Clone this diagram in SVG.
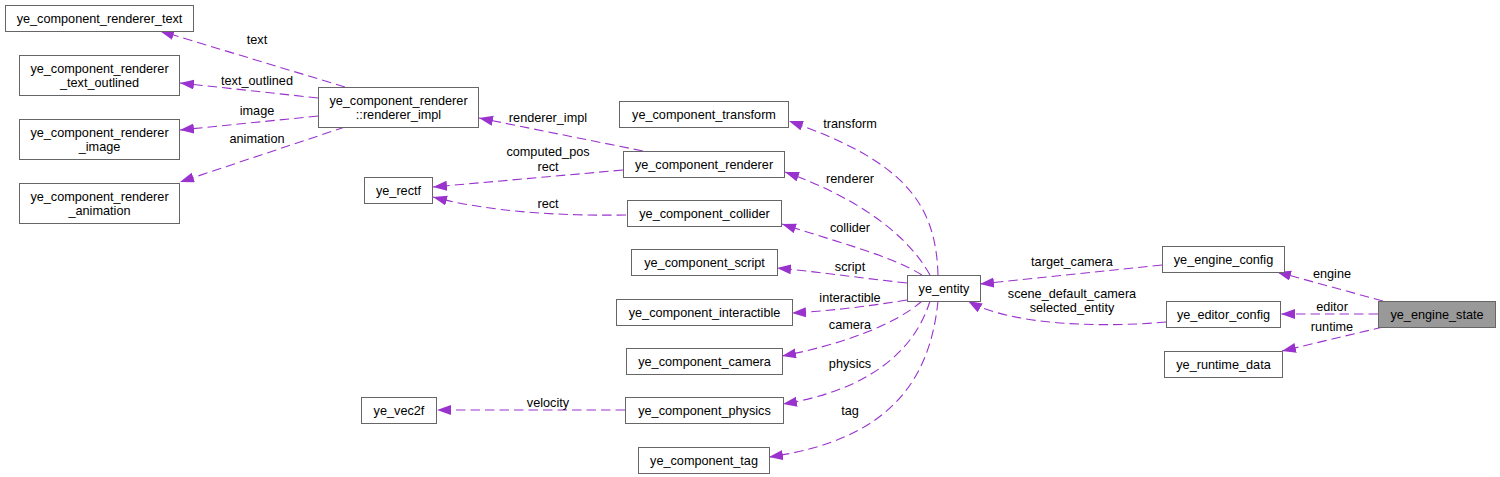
<svg xmlns="http://www.w3.org/2000/svg" width="1500" height="477" viewBox="0 0 1500 477">
<defs>
<style>
.n rect{fill:#ffffff;stroke:#666666;stroke-width:1}
.n.h rect{fill:#999999}
text{font-family:"Liberation Sans",Arial,Helvetica,sans-serif;font-size:12.7px;fill:#000000;text-anchor:middle}
.e path{fill:none;stroke:#9a32cd;stroke-width:1.1;stroke-dasharray:9.5,5;marker-end:url(#ah)}
</style>
<marker id="ah" markerUnits="userSpaceOnUse" markerWidth="15" markerHeight="11" refX="14" refY="5" orient="auto">
<path d="M0,0 L14,5 L0,10 z" fill="#9a32cd" stroke="none"/>
</marker>
</defs>
<rect x="0" y="0" width="1500" height="477" fill="#ffffff"/>
<g id="edges" class="e">
<path d="M345,87 L160,31"/>
<path d="M318,98 L180,83"/>
<path d="M318,116 L180,130"/>
<path d="M345,127 L180,182"/>
<path d="M643,151 L479,118"/>
<path d="M623,170 L433,187"/>
<path d="M626,215 C560,216 490,212 433,197"/>
<path d="M625,410 L437,410"/>
<path d="M938,275 C936,200 900,160 789,121"/>
<path d="M930,275 C905,230 850,195 785,172"/>
<path d="M922,275 C890,255 830,240 782,224"/>
<path d="M907,283 C860,278 820,272 777,268"/>
<path d="M907,300 C870,306 830,311 792,313"/>
<path d="M922,301 C895,325 840,345 782,356"/>
<path d="M930,301 C915,350 870,390 783,404"/>
<path d="M938,301 C930,380 890,440 769,457"/>
<path d="M1162,265 L980,284"/>
<path d="M1166,322 C1100,328 1010,325 968,301"/>
<path d="M1383,301 L1277,272"/>
<path d="M1378,314 L1281,314"/>
<path d="M1383,327 L1282,351"/>
</g>
<g id="labels">
<text x="257" y="43.5">text</text>
<text x="257" y="84.5">text_outlined</text>
<text x="257" y="114.5">image</text>
<text x="257" y="142.5">animation</text>
<text x="548" y="121.5">renderer_impl</text>
<text x="548" y="155.5">computed_pos</text>
<text x="548" y="170.5">rect</text>
<text x="548" y="207.5">rect</text>
<text x="548" y="406.5">velocity</text>
<text x="850" y="127.5">transform</text>
<text x="850" y="182.5">renderer</text>
<text x="850" y="231.5">collider</text>
<text x="850" y="270.5">script</text>
<text x="850" y="301.5">interactible</text>
<text x="850" y="328.5">camera</text>
<text x="850" y="367.5">physics</text>
<text x="850" y="414.5">tag</text>
<text x="1072" y="265.5">target_camera</text>
<text x="1072" y="297.5">scene_default_camera</text>
<text x="1072" y="311.5">selected_entity</text>
<text x="1332" y="277.5">engine</text>
<text x="1332" y="310.5">editor</text>
<text x="1332" y="330.5">runtime</text>
</g>
<g id="node_renderer_text" class="n"><rect x="5.5" y="5.5" width="188" height="26"/><text x="99.5" y="23">ye_component_renderer_text</text></g>
<g id="node_renderer_text_outlined" class="n"><rect x="19.5" y="55.5" width="160" height="40"/><text x="99.5" y="73">ye_component_renderer</text><text x="99.5" y="87">_text_outlined</text></g>
<g id="node_renderer_image" class="n"><rect x="19.5" y="119.5" width="160" height="40"/><text x="99.5" y="137">ye_component_renderer</text><text x="99.5" y="151">_image</text></g>
<g id="node_renderer_animation" class="n"><rect x="19.5" y="183.5" width="160" height="40"/><text x="99.5" y="201">ye_component_renderer</text><text x="99.5" y="215">_animation</text></g>
<g id="node_renderer_impl" class="n"><rect x="318.5" y="87.5" width="160" height="40"/><text x="398.5" y="105">ye_component_renderer</text><text x="398.5" y="119">::renderer_impl</text></g>
<g id="node_rectf" class="n"><rect x="364.5" y="177.5" width="68" height="26"/><text x="398.5" y="195">ye_rectf</text></g>
<g id="node_vec2f" class="n"><rect x="361.5" y="397.5" width="75" height="26"/><text x="399" y="415">ye_vec2f</text></g>
<g id="node_transform" class="n"><rect x="619.5" y="101.5" width="169" height="26"/><text x="704" y="119">ye_component_transform</text></g>
<g id="node_renderer" class="n"><rect x="623.5" y="151.5" width="161" height="26"/><text x="704" y="169">ye_component_renderer</text></g>
<g id="node_collider" class="n"><rect x="627.5" y="200.5" width="154" height="26"/><text x="704.5" y="218">ye_component_collider</text></g>
<g id="node_script" class="n"><rect x="631.5" y="249.5" width="146" height="26"/><text x="704.5" y="267">ye_component_script</text></g>
<g id="node_interactible" class="n"><rect x="616.5" y="299.5" width="176" height="26"/><text x="704.5" y="317">ye_component_interactible</text></g>
<g id="node_camera" class="n"><rect x="626.5" y="348.5" width="156" height="26"/><text x="704.5" y="366">ye_component_camera</text></g>
<g id="node_physics" class="n"><rect x="625.5" y="397.5" width="158" height="26"/><text x="704.5" y="415">ye_component_physics</text></g>
<g id="node_tag" class="n"><rect x="638.5" y="447.5" width="131" height="26"/><text x="704" y="465">ye_component_tag</text></g>
<g id="node_entity" class="n"><rect x="907.5" y="275.5" width="73" height="26"/><text x="944" y="293">ye_entity</text></g>
<g id="node_engine_config" class="n"><rect x="1162.5" y="246.5" width="122" height="26"/><text x="1223.5" y="264">ye_engine_config</text></g>
<g id="node_editor_config" class="n"><rect x="1166.5" y="301.5" width="114" height="26"/><text x="1223.5" y="319">ye_editor_config</text></g>
<g id="node_runtime_data" class="n"><rect x="1164.5" y="351.5" width="118" height="26"/><text x="1223.5" y="369">ye_runtime_data</text></g>
<g id="node_engine_state" class="n h"><rect x="1378.5" y="301.5" width="117" height="26"/><text x="1437" y="319">ye_engine_state</text></g>
</svg>
